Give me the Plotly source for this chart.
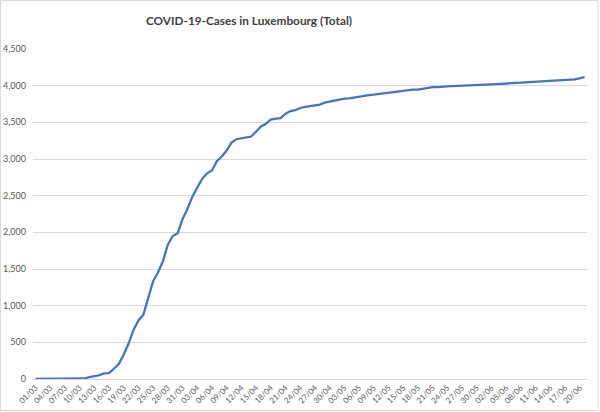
import pandas as pd
import plotly.graph_objects as go

# total confirmed cases, one value per day from 01/03 to 21/06
cases_mar = [1, 1, 1, 1, 2, 2, 3, 4, 5, 5, 7, 26, 34, 51, 77, 81, 140, 203, 335, 484,
             670, 798, 875, 1099, 1333, 1453, 1605, 1831, 1950, 1988, 2178]
cases_apr = [2319, 2487, 2612, 2729, 2804, 2843, 2970, 3034, 3115, 3223, 3270, 3281, 3292, 3307, 3373,
             3444, 3480, 3537, 3550, 3558, 3618, 3654, 3665, 3695, 3711, 3723, 3729, 3741, 3769, 3784]
cases_may = [3802, 3812, 3824, 3828, 3840, 3851, 3859, 3871, 3877, 3886, 3888, 3894, 3904, 3915, 3923,
             3930, 3945, 3947, 3958, 3971, 3980, 3981, 3990, 3990, 3993, 3995, 4001, 4005, 4008, 4010, 4012]
cases_jun = [4016, 4019, 4020, 4024, 4032, 4035, 4039, 4040, 4045, 4048, 4052, 4055, 4056, 4064, 4069,
             4072, 4075, 4085, 4087, 4100, 4118]

cases = cases_mar + cases_apr + cases_may + cases_jun
days = pd.date_range("2020-03-01", periods=len(cases), freq="D").strftime("%d/%m").tolist()
tick_labels = days[::3]

y_ticks = [0, 500, 1000, 1500, 2000, 2500, 3000, 3500, 4000, 4500]

GREY = "#595959"
GRID = "#d9d9d9"
FONT = "Lato"

fig = go.Figure()
fig.add_trace(go.Scatter(
    x=days,
    y=cases,
    mode="lines",
    line=dict(color="#4472C4", width=2.25),
    hoverinfo="x+y"
))

fig.update_layout(
    width=600,
    height=412,
    autosize=False,
    margin=dict(l=33, r=13, t=49, b=33, autoexpand=False),
    paper_bgcolor="white",
    plot_bgcolor="white",
    showlegend=False,
    font=dict(family=FONT, color=GREY),
    title=dict(
        text="<b>COVID-19-Cases in Luxembourg (Total)</b>",
        x=0.415, xref="container", xanchor="center",
        y=0.949, yref="container", yanchor="middle",
        font=dict(family=FONT, size=11.8, color="#404040")
    ),
    xaxis=dict(
        type="category",
        range=[-0.5, len(cases) - 0.5],
        tickmode="array",
        tickvals=tick_labels,
        ticktext=tick_labels,
        tickangle=-45,
        tickfont=dict(size=8, color=GREY),
        showgrid=False,
        showline=True,
        linecolor=GRID,
        linewidth=1,
        ticks="",
        zeroline=False,
        automargin=False
    ),
    yaxis=dict(
        range=[0, 4500],
        tickvals=y_ticks,
        tickformat=",",
        tickfont=dict(size=9, color=GREY),
        showgrid=True,
        gridcolor=GRID,
        gridwidth=1,
        zeroline=False,
        showline=False,
        ticks="",
        ticklabelstandoff=6,
        automargin=False
    )
)

# light grey frame round the whole chart
fig.add_shape(
    type="rect", xref="paper", yref="paper",
    x0=(0.5 - 33) / 554, x1=(598 - 33) / 554,
    y0=(379 - 410.5) / 330, y1=(379 - 0.5) / 330,
    line=dict(color=GRID, width=1),
    fillcolor="rgba(0,0,0,0)",
    layer="below"
)

# drop the page's default body margin so the chart sits at the window's corner
fig.write_html(
    "out.html",
    config={"displayModeBar": False},
    post_script="document.body.style.margin='0';"
)
